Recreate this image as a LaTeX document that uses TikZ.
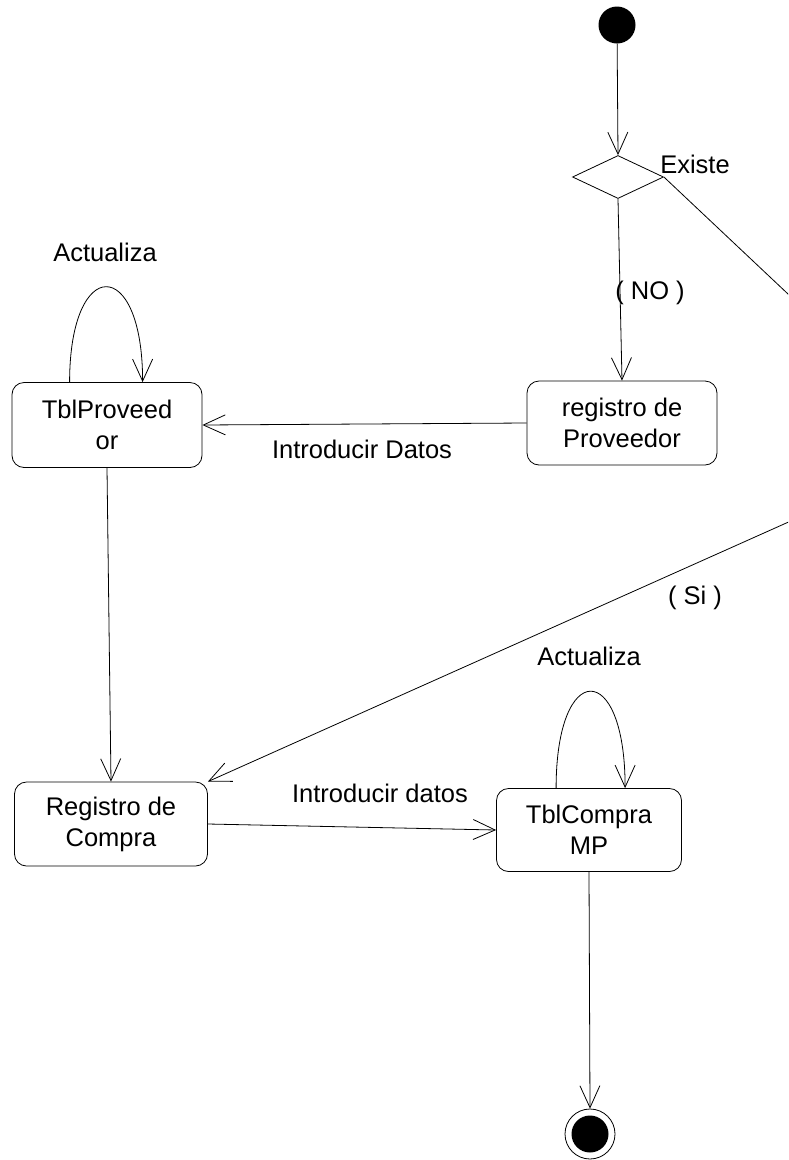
\documentclass[tikz,border=0pt]{standalone}
\usepackage{fontspec}
\setmainfont{Liberation Sans}
\usetikzlibrary{arrows.meta,shapes.geometric,calc}
\begin{document}
\begin{tikzpicture}[x=1pt,y=-1pt,
  every node/.style={font=\fontsize{25.5}{31}\selectfont},
  state/.style={draw, rounded corners=12pt, line width=0.8pt, align=center, inner sep=0pt},
  conn/.style={line width=0.8pt},
  arr/.style={conn, -{Straight Barb[length=22pt,width=20pt,line width=0.8pt]}},
  lbl/.style={inner sep=0pt}]
\useasboundingbox (0,0) rectangle (788,1160);
\clip (0,0) rectangle (788,1160);
% start / decision
\node[circle, fill=black, minimum size=37pt, inner sep=0pt] (start) at (617,25) {};
\node[draw, shape=diamond, aspect=2.1, minimum width=91pt, minimum height=43pt, inner sep=0pt, line width=0.8pt] (dec) at (618,177) {};
\node[lbl] (existe) at (695,164) {Existe};
% states
\node[state, minimum width=190pt, minimum height=84pt] (regP) at (622,423) {registro de\\Proveedor};
\node[state, minimum width=190pt, minimum height=85pt] (tp) at (107,425) {TblProveed\\or};
\node[state, minimum width=193pt, minimum height=84pt] (regC) at (111,824) {Registro de\\Compra};
\node[state, minimum width=185pt, minimum height=83pt] (tc) at (589,830) {TblCompra\\MP};
% end
\node[circle, draw, line width=0.8pt, minimum size=50pt, inner sep=0pt] (fin) at (590,1134) {};
\node[circle, fill=black, minimum size=37pt, inner sep=0pt] (finin) at (fin.center) {};
% labels
\node[lbl] (no) at (650,293) {( NO )};
\node[lbl] (act1) at (105,252) {Actualiza};
\node[lbl] (intro1) at (362,449) {Introducir Datos};
\node[lbl] (si) at (695,598) {( Si )};
\node[lbl] (act2) at (589,656) {Actualiza};
\node[lbl] (intro2) at (380,793) {Introducir datos};
% loop anchors
\coordinate (l1a) at ($(tp.north west)+(58,0)$);
\coordinate (l1b) at ($(tp.north west)+(131,0)$);
\coordinate (l2a) at ($(tc.north west)+(60,0)$);
\coordinate (l2b) at ($(tc.north west)+(129,0)$);
\coordinate (sr1) at (840,343);
\coordinate (sr2) at (840,499);
% connectors
\draw[arr] (start) -- (dec.north);
\draw[arr] (dec.south) -- (regP.north);
\draw[arr] (regP.west) -- (tp.east);
\draw[arr] (l1a) .. controls ($(l1a)+(0,-127)$) and ($(l1b)+(0,-127)$) .. (l1b);
\draw[arr] (tp.south) -- (regC.north);
\draw[arr] (dec.east) -- (sr1) -- (sr2) -- (regC.north east);
\draw[arr] (regC.east) -- (tc.west);
\draw[arr] (l2a) .. controls ($(l2a)+(0,-129)$) and ($(l2b)+(0,-129)$) .. (l2b);
\draw[arr] (tc.south) -- (fin.north);
\end{tikzpicture}
\end{document}
